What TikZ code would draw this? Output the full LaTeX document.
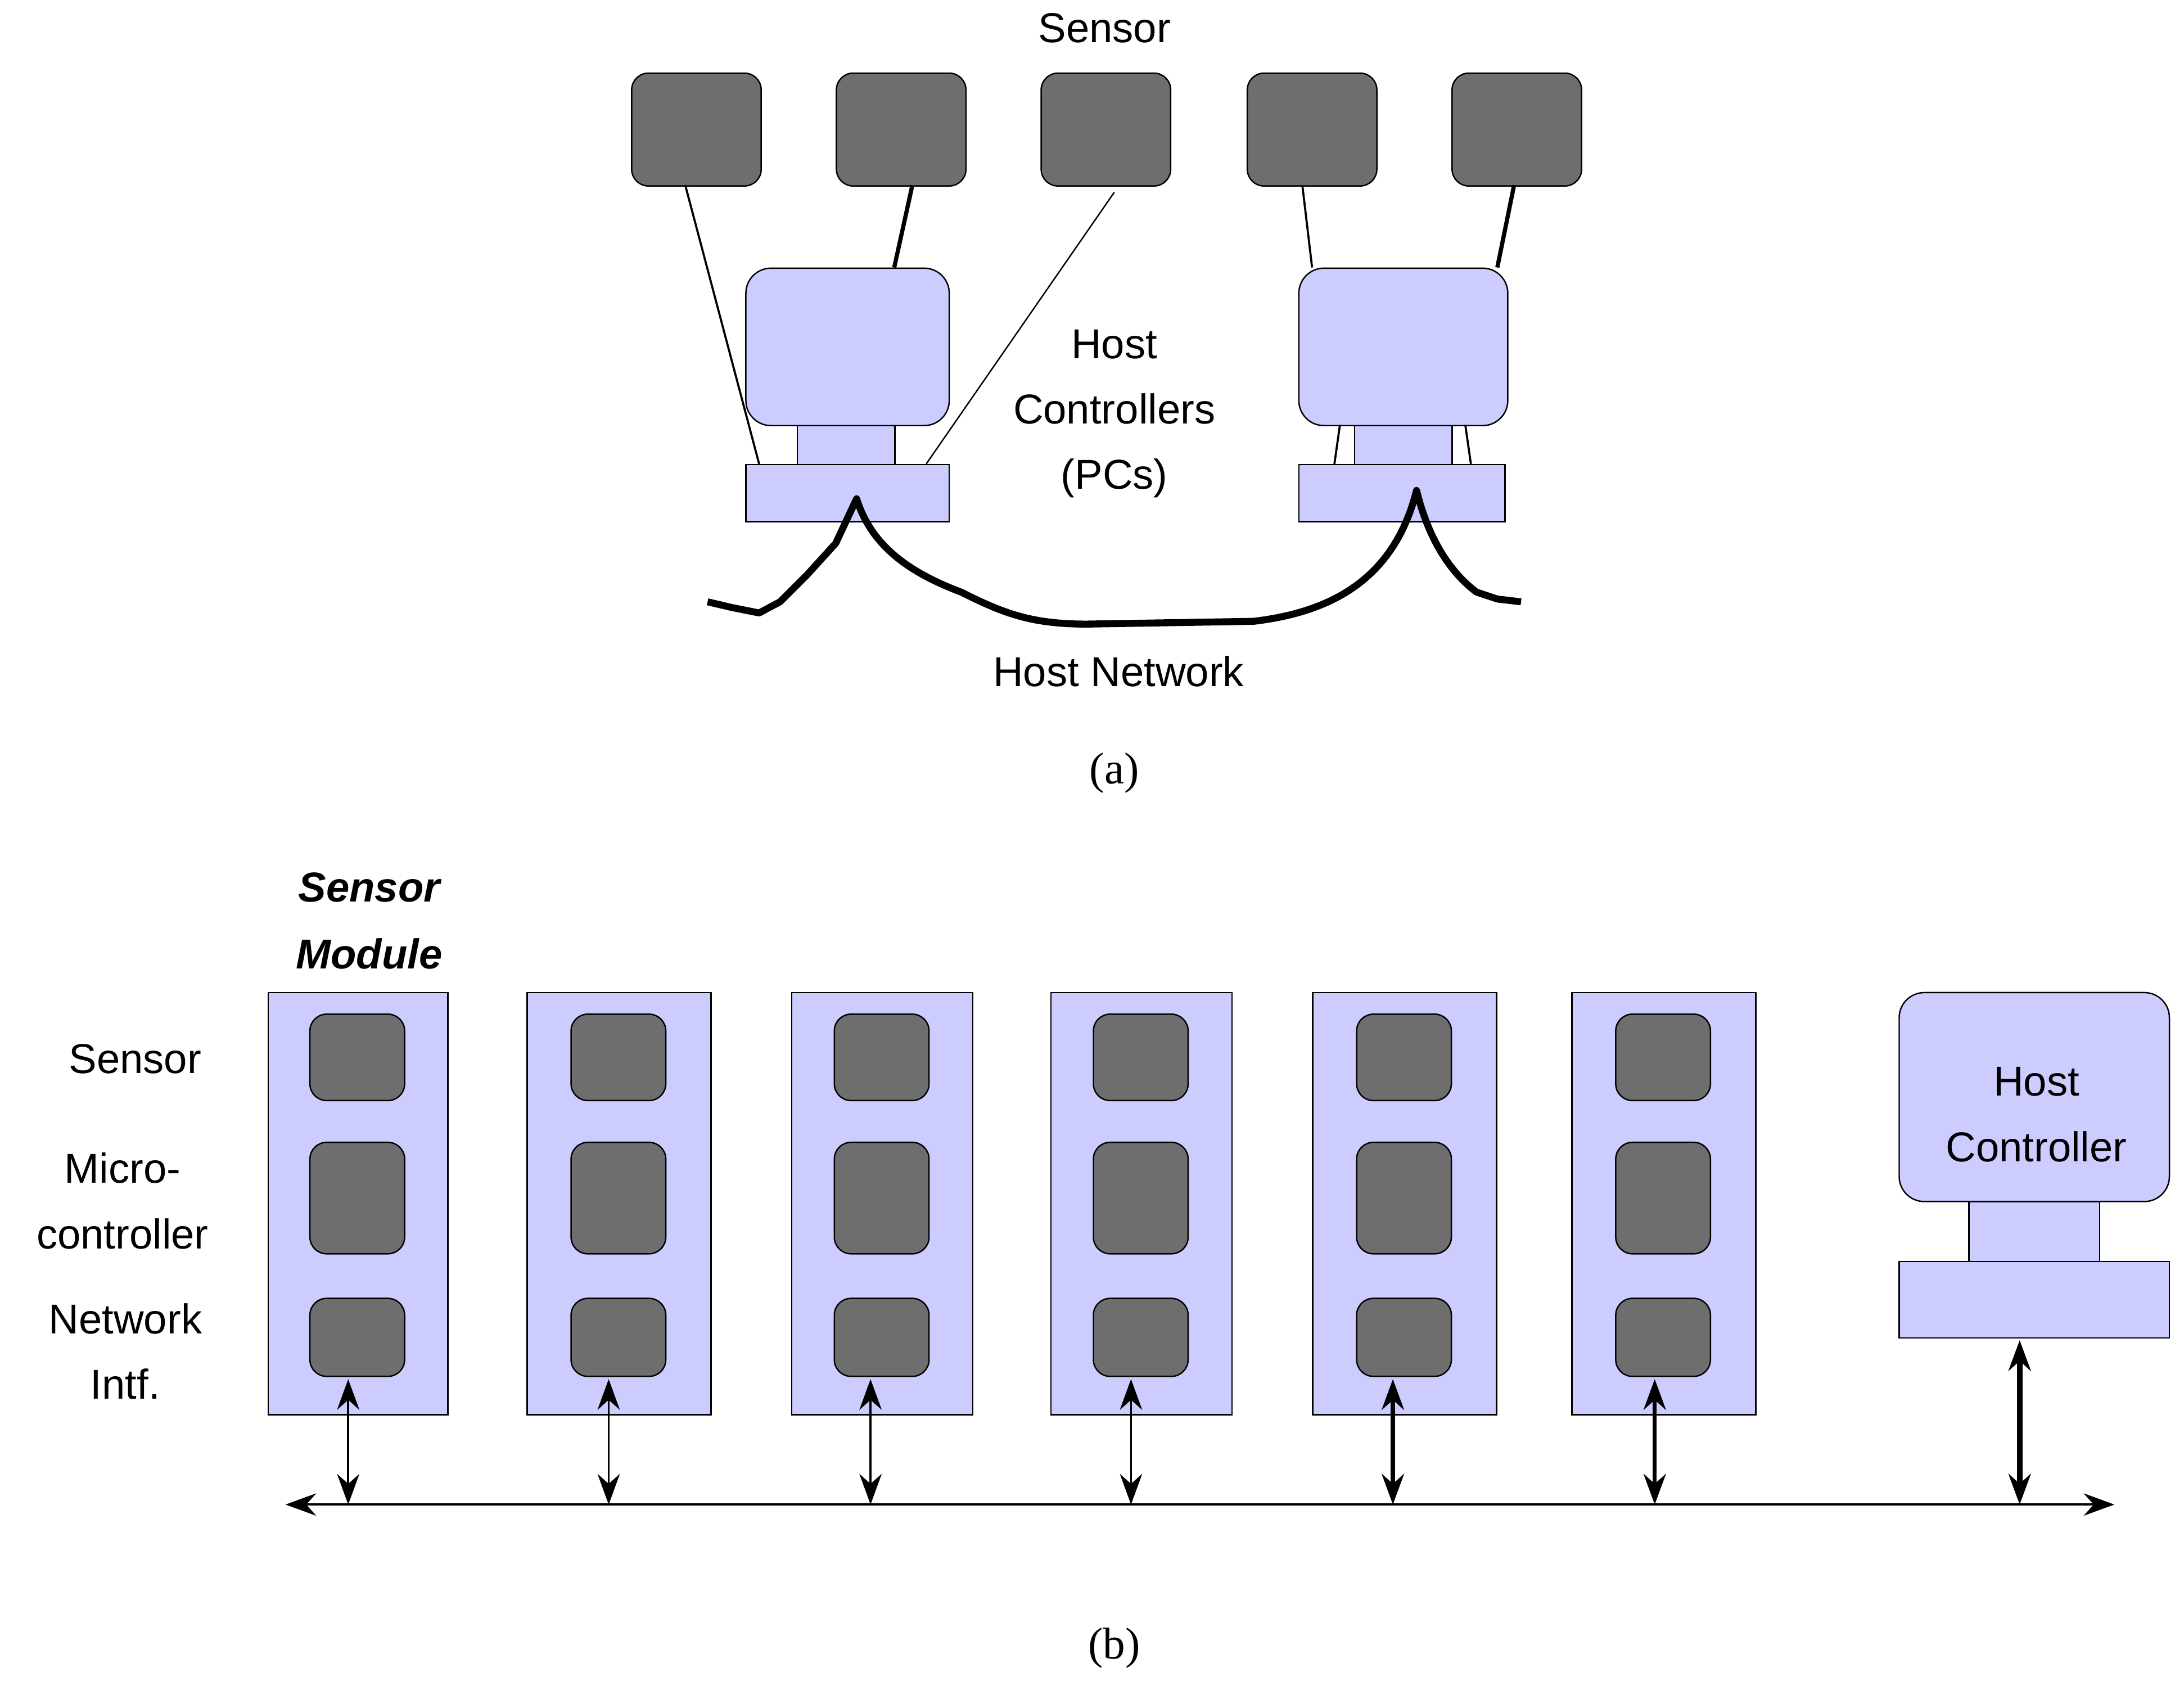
\documentclass[tikz,border=0pt]{standalone}
\usepackage{fontspec}
\setmainfont{Liberation Sans}
\newfontfamily\serif{Liberation Serif}
\usetikzlibrary{arrows.meta,calc}
\begin{document}
\begin{tikzpicture}[x=1pt,y=-1pt,
 sens/.style={draw=black,fill={rgb,255:red,110;green,110;blue,110},rounded corners=12pt,line width=1pt},
 lav/.style={draw=black,fill={rgb,255:red,204;green,204;blue,255},line width=1pt},
 lavr/.style={lav,rounded corners=18pt},
 lbl/.style={font=\fontsize{30}{47}\selectfont,align=center},
 captxt/.style={font=\serif\fontsize{32}{38}\selectfont},
 ln/.style={line width=1.5pt},
 dar/.style={{Stealth[length=22pt,width=16pt]}-{Stealth[length=22pt,width=16pt]},line width=1.5pt}]
\useasboundingbox (0,0) rectangle (1568,1213);
% (a) sensors
\foreach \i/\x in {1/453,2/600,3/747,4/895,5/1042}{
 \node[sens,minimum width=93pt,minimum height=81pt,anchor=north west,inner sep=0] (s\i) at (\x,52) {};}
% hosts
\node[lavr,minimum width=146pt,minimum height=113pt,anchor=north west] (m1) at (535,192) {};
\node[lav,minimum width=70pt,minimum height=28pt,anchor=north west] (n1) at (572,305) {};
\node[lav,minimum width=146pt,minimum height=41pt,anchor=north west] (p1) at (535,333) {};
\node[lavr,minimum width=150pt,minimum height=113pt,anchor=north west] (m2) at (932,192) {};
\node[lav,minimum width=70pt,minimum height=28pt,anchor=north west] (n2) at (972,305) {};
\node[lav,minimum width=148pt,minimum height=41pt,anchor=north west] (p2) at (932,333) {};
\draw[ln] (492,133) -- (545,333);
\draw[line width=3pt] (655,133) -- (642,192);
\draw[line width=1pt] (800,138) -- (665,333);
\draw[ln] (935,133) -- (942,192);
\draw[line width=3pt] (1087,133) -- (1075,192);
\draw[ln] (962,305) -- (958,333);
\draw[ln] (1052,305) -- (1056,333);
% network
\draw[line width=5pt,line join=round] (508,432) -- (525,436) -- (545,440) -- (560,432) -- (580,412) -- (600,390) -- (615,358)
 .. controls (625,390) and (650,410) .. (690,425) .. controls (720,440) and (740,448) .. (780,448)
 -- (900,446) .. controls (950,440) and (1000,420) .. (1017,352)
 .. controls (1025,385) and (1040,410) .. (1060,425) -- (1075,430) -- (1092,432);
\node[lbl] (t1) at (793,20) {Sensor};
\node[lbl] (t2) at (800,297) {Host\\Controllers\\(PCs)};
\node[lbl] (t3) at (803,482) {Host Network};
\node[captxt] (ca) at (800,555) {(a)};
% (b)
\foreach \i/\x/\w in {1/192/129,2/378/132,3/568/130,4/754/130,5/942/132,6/1128/132}{
 \node[lav,minimum width=\w pt,minimum height=303pt,anchor=north west] (mod\i) at (\x,712) {};
 \node[sens,minimum width=68pt,minimum height=62pt] (ms\i) at ($(\x,759)+(\w/2,0)$) {};
 \node[sens,minimum width=68pt,minimum height=80pt] (mm\i) at ($(\x,860)+(\w/2,0)$) {};
 \node[sens,minimum width=68pt,minimum height=56pt] (mn\i) at ($(\x,960)+(\w/2,0)$) {};
}
\node[lavr,minimum width=194pt,minimum height=150pt,anchor=north west] (hm) at (1363,712) {};
\node[lav,minimum width=94pt,minimum height=43pt,anchor=north west] (hn) at (1413,862) {};
\node[lav,minimum width=194pt,minimum height=55pt,anchor=north west] (hp) at (1363,905) {};
\node[lbl] at (1462,800) {Host\\Controller};
\coordinate (bl) at (205,1080); \coordinate (br) at (1518,1080);
\draw[dar] (bl) -- (br);
\foreach \x [count=\i] in {250,437,625,812}{
 \coordinate (a\i) at (\x,990); \coordinate (b\i) at (\x,1080);
 \draw[dar] (a\i) -- (b\i);}
\foreach \x [count=\i from 5] in {1000,1188}{
 \coordinate (a\i) at (\x,990); \coordinate (b\i) at (\x,1080);
 \draw[dar,line width=3pt] (a\i) -- (b\i);}
\coordinate (ha) at (1450,962); \coordinate (hb) at (1450,1080);
\draw[dar,line width=4pt] (ha) -- (hb);
\node[lbl] at (97,760) {Sensor};
\node[lbl] at (88,862) {Micro-\\controller};
\node[lbl] at (90,970) {Network\\Intf.};
\node[lbl,font=\bfseries\itshape\fontsize{30}{48}\selectfont] at (265,661) {Sensor\\Module};
\node[captxt] (cb) at (800,1183) {(b)};
\end{tikzpicture}
\end{document}
